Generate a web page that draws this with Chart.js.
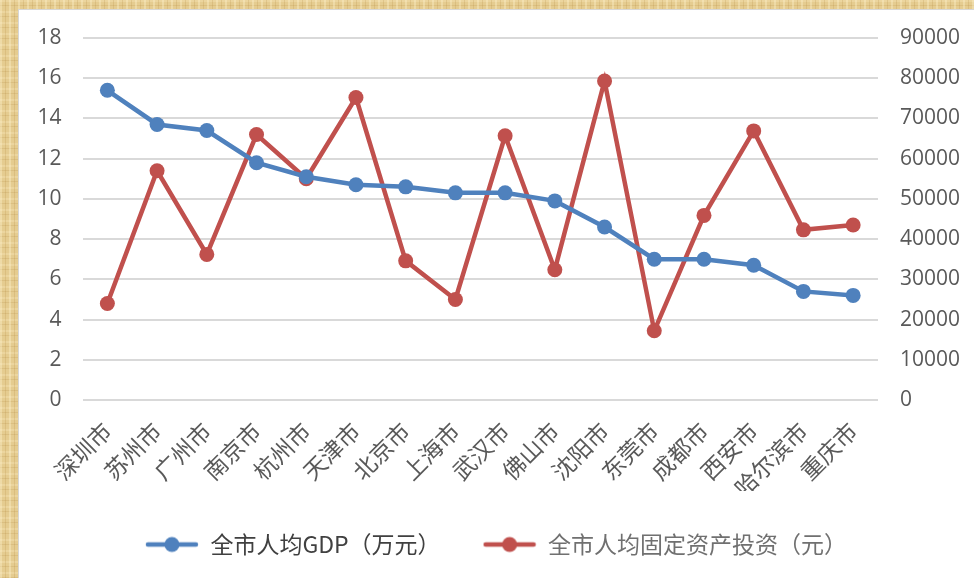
<!DOCTYPE html>
<html>
<head>
<meta charset="utf-8">
<script src="https://cdn.jsdelivr.net/npm/chart.js@4.4.1/dist/chart.umd.min.js"></script>
<style>
  html, body { margin: 0; padding: 0; width: 974px; height: 578px; overflow: hidden; }
  body {
    background-color: #e5cc90;
    background-image:
      repeating-linear-gradient(90deg, rgba(255,245,210,0.35) 0px, rgba(255,245,210,0.35) 2px, rgba(0,0,0,0) 2px, rgba(0,0,0,0) 5px, rgba(170,125,50,0.18) 5px, rgba(170,125,50,0.18) 6px, rgba(0,0,0,0) 6px, rgba(0,0,0,0) 9px),
      repeating-linear-gradient(0deg, rgba(160,115,40,0.15) 0px, rgba(160,115,40,0.15) 1px, rgba(0,0,0,0) 1px, rgba(0,0,0,0) 4px, rgba(255,240,200,0.25) 4px, rgba(255,240,200,0.25) 6px, rgba(0,0,0,0) 6px, rgba(0,0,0,0) 11px);
  }
  #panel { position: absolute; left: 18px; top: 9px; right: 0; bottom: 0; background: #ffffff; border-left: 1px solid #d6d6d6; border-top: 1px solid #d6d6d6; }
  #wrap { position: absolute; left: 0; top: 0; width: 974px; height: 578px; }
</style>
</head>
<body>
<div id="panel"></div>
<div id="wrap"><canvas id="c" width="974" height="578"></canvas></div>
<script>
const categories = ['深圳市','苏州市','广州市','南京市','杭州市','天津市','北京市','上海市','武汉市','佛山市','沈阳市','东莞市','成都市','西安市','哈尔滨市','重庆市'];
const gdpPerCapita = [15.4, 13.7, 13.4, 11.8, 11.1, 10.7, 10.6, 10.3, 10.3, 9.9, 8.6, 7.0, 7.0, 6.7, 5.4, 5.2];
const investPerCapita = [24000, 57000, 36200, 66000, 55000, 75200, 34600, 25000, 65700, 32400, 79300, 17200, 45900, 66900, 42300, 43500];
const leftTicks = [0, 2, 4, 6, 8, 10, 12, 14, 16, 18];
const rightTicks = [0, 10000, 20000, 30000, 40000, 50000, 60000, 70000, 80000, 90000];
const seriesNames = ['全市人均GDP（万元）', '全市人均固定资产投资（元）'];

const BLUE = '#4F81BD';
const RED = '#C0504D';

function legendIcon(color) {
  const cv = document.createElement('canvas');
  cv.width = 54; cv.height = 18;
  const g = cv.getContext('2d');
  g.strokeStyle = color; g.lineWidth = 4.5; g.lineCap = 'round';
  g.beginPath(); g.moveTo(3, 9); g.lineTo(51, 9); g.stroke();
  g.fillStyle = color;
  g.beginPath(); g.arc(27, 9, 7.5, 0, Math.PI * 2); g.fill();
  return cv;
}
const icons = [legendIcon(BLUE), legendIcon(RED)];
const legendColors = ['#404040', '#707070'];

new Chart(document.getElementById('c'), {
  type: 'line',
  data: {
    labels: categories,
    datasets: [
      { label: seriesNames[0], data: gdpPerCapita, yAxisID: 'yL', borderColor: BLUE, backgroundColor: BLUE,
        borderWidth: 4.5, pointRadius: 7.5, pointHoverRadius: 7.5, pointBorderWidth: 0, pointBackgroundColor: BLUE, tension: 0 },
      { label: seriesNames[1], data: investPerCapita, yAxisID: 'yR', borderColor: RED, backgroundColor: RED,
        borderWidth: 4.5, pointRadius: 7.5, pointHoverRadius: 7.5, pointBorderWidth: 0, pointBackgroundColor: RED, tension: 0 }
    ]
  },
  options: {
    responsive: false,
    animation: false,
    devicePixelRatio: 1,
    layout: { padding: { left: 18, top: 38, right: 0, bottom: 12 } },
    plugins: {
      tooltip: { enabled: false },
      legend: {
        position: 'bottom',
        labels: {
          usePointStyle: true,
          pointStyleWidth: 54,
          padding: 42,
          font: { family: '"Noto Sans CJK SC", "Noto Sans", sans-serif', size: 23 },
          color: '#595959',
          generateLabels: (chart) => chart.data.datasets.map((ds, i) => ({
            text: ds.label,
            fillStyle: ds.borderColor,
            strokeStyle: ds.borderColor,
            lineWidth: 0,
            pointStyle: icons[i],
            fontColor: legendColors[i],
            hidden: false,
            datasetIndex: i
          }))
        }
      }
    },
    scales: {
      x: {
        offset: true,
        grid: { display: false, drawTicks: false },
        border: { display: false },
        ticks: {
          autoSkip: false, minRotation: 45, maxRotation: 45, padding: 17,
          color: '#595959',
          font: { family: '"Noto Sans CJK SC", sans-serif', size: 23 }
        },
        afterFit: (s) => { s.height = 91; }
      },
      yL: {
        position: 'left',
        min: leftTicks[0], max: leftTicks[leftTicks.length - 1],
        afterBuildTicks: (s) => { s.ticks = leftTicks.map(v => ({ value: v })); },
        grid: { color: '#d9d9d9', lineWidth: 2, drawTicks: false },
        border: { display: false },
        ticks: { padding: 21, color: '#595959', font: { family: '"Open Sans", sans-serif', size: 21 }, callback: (v) => String(v) },
        afterFit: (s) => { s.width = 64.5; }
      },
      yR: {
        position: 'right',
        min: rightTicks[0], max: rightTicks[rightTicks.length - 1],
        afterBuildTicks: (s) => { s.ticks = rightTicks.map(v => ({ value: v })); },
        grid: { drawOnChartArea: false, drawTicks: false },
        border: { display: false },
        ticks: { padding: 22, color: '#595959', font: { family: '"Open Sans", sans-serif', size: 21 }, callback: (v) => String(v) },
        afterFit: (s) => { s.width = 96; }
      }
    }
  }
});
</script>
</body>
</html>
